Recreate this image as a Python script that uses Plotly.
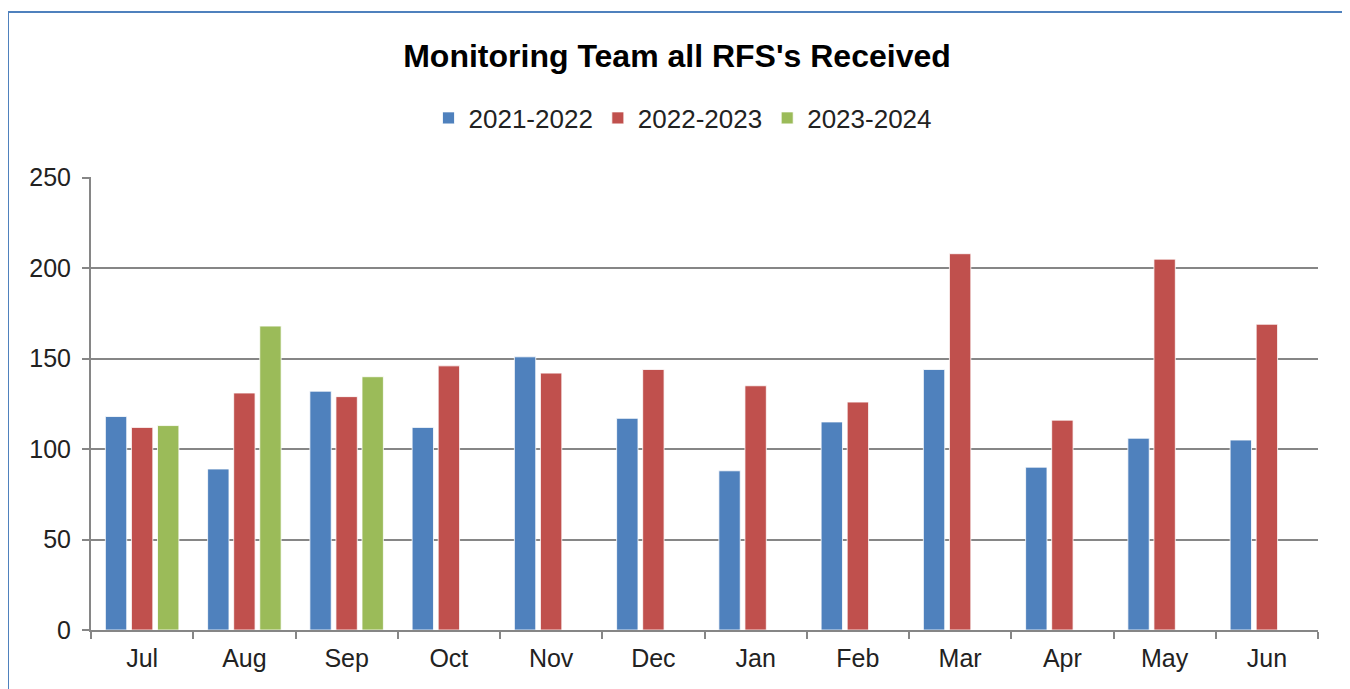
import plotly.graph_objects as go

months = ["Jul", "Aug", "Sep", "Oct", "Nov", "Dec", "Jan", "Feb", "Mar", "Apr", "May", "Jun"]
series_names = ["2021-2022", "2022-2023", "2023-2024"]
v_2021_2022 = [118, 89, 132, 112, 151, 117, 88, 115, 144, 90, 106, 105]
v_2022_2023 = [112, 131, 129, 146, 142, 144, 135, 126, 208, 116, 205, 169]
v_2023_2024 = [113, 168, 140, None, None, None, None, None, None, None, None, None]
colors = ["#4F81BD", "#C0504D", "#9BBB59"]
y_ticks = [0, 50, 100, 150, 200, 250]

# page body adds an 8px offset, so the figure is laid out in page coordinates minus 8
OFF = 8
W, H = 1342, 681
L, R, T, B = 91 - OFF, 32, 177 - OFF, 59

fig = go.Figure()
for name, vals, col in zip(series_names, [v_2021_2022, v_2022_2023, v_2023_2024], colors):
    fig.add_trace(go.Bar(x=months, y=vals, name=name,
                         marker=dict(color=col, line=dict(color="rgba(255,255,255,0.8)", width=1))))

pw, ph = W - L - R, H - T - B
def px(x):
    return (x - OFF - L) / pw
def py(y):
    return (H - B - (y - OFF)) / ph

fig.add_shape(type="rect", xref="paper", yref="paper",
              x0=px(8), x1=px(1349), y0=py(720), y1=py(12),
              line=dict(color="#4F81BD", width=2), fillcolor="rgba(0,0,0,0)", layer="below")

fig.update_layout(
    width=W, height=H,
    margin=dict(l=L, r=R, t=T, b=B),
    paper_bgcolor="white", plot_bgcolor="white",
    barmode="group", bargap=0.235, bargroupgap=0.18,
    font=dict(family="Liberation Sans, Arial, sans-serif", size=24, color="#222222"),
    title=dict(text="<b>Monitoring Team all RFS's Received</b>", x=(677 - OFF) / W, xref="container",
               xanchor="center", y=1 - (56 - OFF) / H, yanchor="middle", yref="container",
               font=dict(size=32, color="black")),
    legend=dict(orientation="h", x=(683 - OFF) / W, xref="container", xanchor="center",
                y=1 - (118 - OFF) / H, yref="container", yanchor="middle",
                font=dict(size=26, color="#222222"), itemwidth=30, traceorder="normal"),
    xaxis=dict(showline=True, linecolor="#868686", linewidth=2, ticks="outside",
               tickson="boundaries", tickcolor="#868686", ticklen=7, tickwidth=2,
               showgrid=False, tickfont=dict(size=25), ticklabelstandoff=5),
    yaxis=dict(range=[0, 250.4], tickvals=y_ticks, showline=True, linecolor="#868686",
               linewidth=2, ticks="outside", tickcolor="#868686", ticklen=7, tickwidth=2,
               showgrid=True, gridcolor="#868686", gridwidth=2, zeroline=False,
               tickfont=dict(size=25), ticklabelstandoff=6),
)

fig.write_html("out.html")
